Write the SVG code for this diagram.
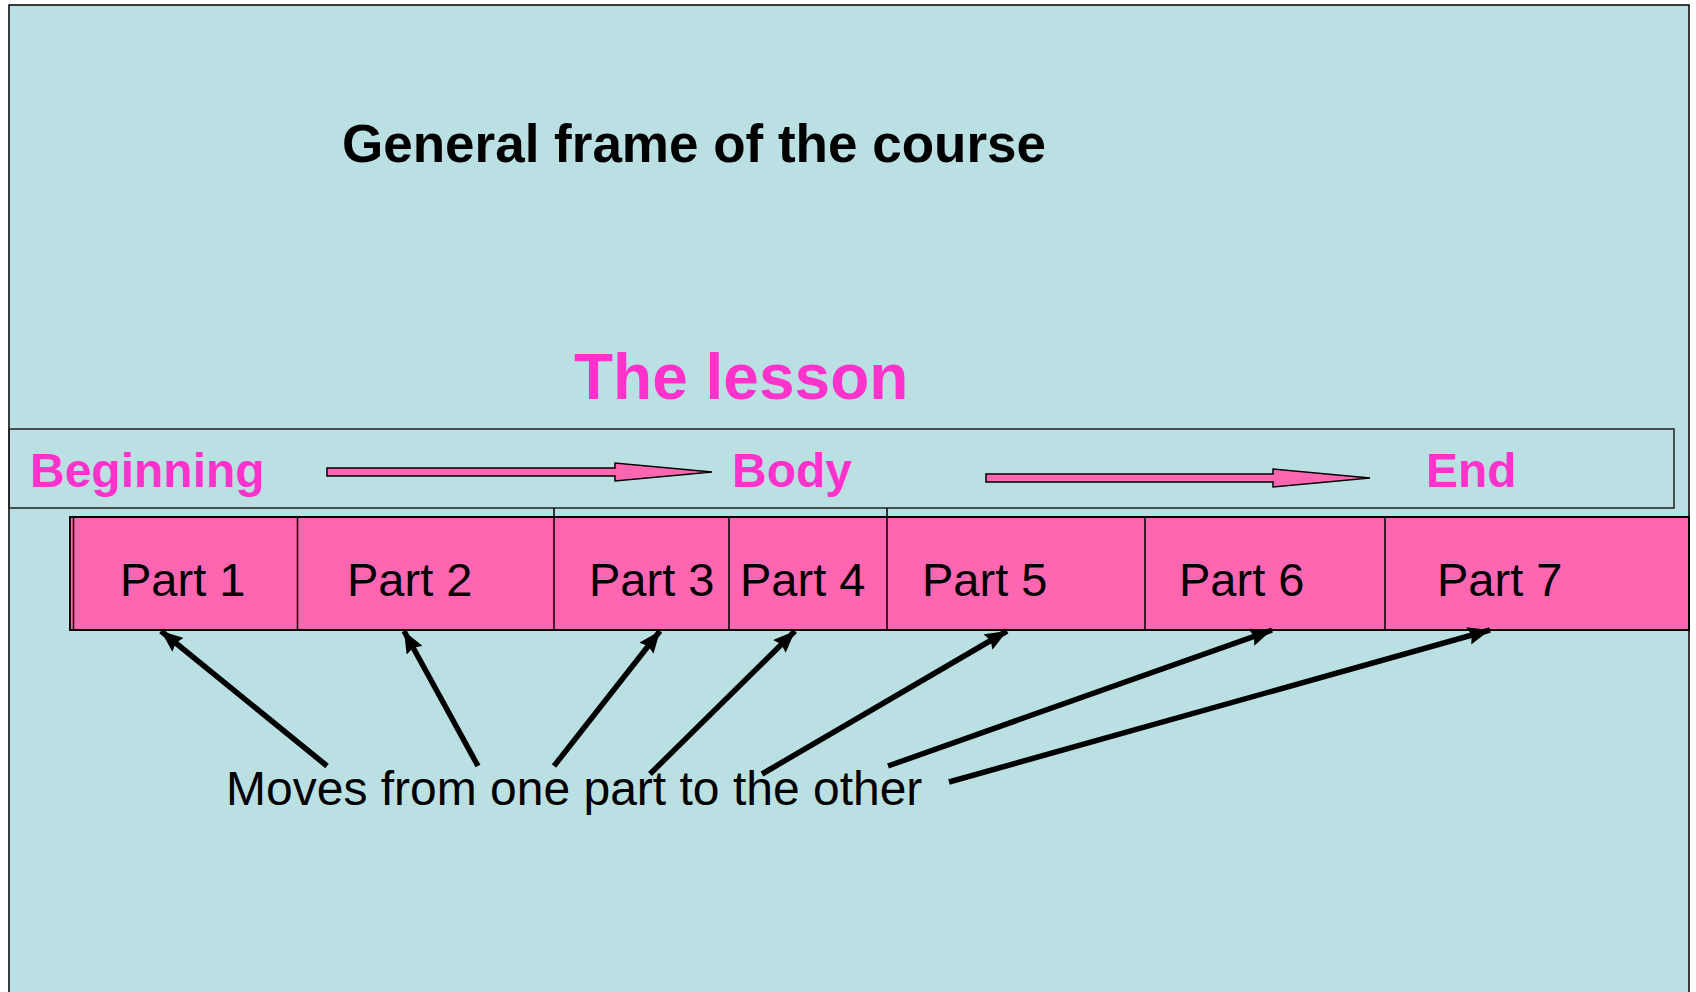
<svg xmlns="http://www.w3.org/2000/svg" width="1696" height="992" viewBox="0 0 1696 992">
<style>
.pink{font-family:"Liberation Sans",Arial,sans-serif;font-weight:bold;fill:#FF33CC}
.part{font-family:"Liberation Sans",Arial,sans-serif;font-size:47px;fill:#000}
.conn{stroke:#000;stroke-width:5.5;fill:none;marker-end:url(#ah)}
.blk{fill:#FF66B2;stroke:#000;stroke-width:1.5;stroke-linejoin:miter}
</style>
<defs>
<marker id="ah" markerUnits="userSpaceOnUse" markerWidth="24" markerHeight="18" refX="22" refY="9" orient="auto">
<path d="M0,0 L22,9 L0,18 L3,9 Z" fill="#000"/>
</marker>
</defs>
<rect x="0" y="0" width="1696" height="992" fill="#ffffff"/>
<rect id="frame" x="9" y="5" width="1680" height="1000" fill="#BAE0E3" stroke="#000" stroke-width="1.5"/>
<text id="title" x="342" y="162" font-family="Liberation Sans, Arial, sans-serif" font-weight="bold" font-size="53" fill="#000">General frame of the course</text>
<text id="lesson" class="pink" x="574" y="399" font-size="64">The lesson</text>
<g id="strip">
<rect x="9" y="429" width="1665" height="79" fill="none" stroke="#222" stroke-width="1.5"/>
<text class="pink" x="30" y="487" font-size="48">Beginning</text>
<path class="blk" d="M327,468 L615,468 L615,463 L712,472 L615,481 L615,476 L327,476 Z"/>
<text class="pink" x="732" y="487" font-size="48">Body</text>
<path class="blk" d="M986,474 L1273,474 L1273,469 L1370,478 L1273,487 L1273,482 L986,482 Z"/>
<text class="pink" x="1426" y="487" font-size="48">End</text>
<line x1="554" y1="508" x2="554" y2="517" stroke="#000" stroke-width="1.5"/>
<line x1="887" y1="508" x2="887" y2="517" stroke="#000" stroke-width="1.5"/>
</g>
<g id="bar">
<rect x="70" y="517" width="1619" height="113" fill="#FF66B2" stroke="#000" stroke-width="2"/>
<line x1="73.5" y1="517" x2="73.5" y2="630" stroke="#000" stroke-width="1.5"/>
<line x1="297.5" y1="517" x2="297.5" y2="630" stroke="#000" stroke-width="1.5"/>
<line x1="554" y1="517" x2="554" y2="630" stroke="#000" stroke-width="1.5"/>
<line x1="729" y1="517" x2="729" y2="630" stroke="#000" stroke-width="1.5"/>
<line x1="887" y1="517" x2="887" y2="630" stroke="#000" stroke-width="1.5"/>
<line x1="1145" y1="517" x2="1145" y2="630" stroke="#000" stroke-width="1.5"/>
<line x1="1385" y1="517" x2="1385" y2="630" stroke="#000" stroke-width="1.5"/>
</g>
<g id="part1"><text class="part" x="120" y="596">Part 1</text></g>
<g id="part2"><text class="part" x="347" y="596">Part 2</text></g>
<g id="part3"><text class="part" x="589" y="596">Part 3</text></g>
<g id="part4"><text class="part" x="740" y="596">Part 4</text></g>
<g id="part5"><text class="part" x="922" y="596">Part 5</text></g>
<g id="part6"><text class="part" x="1179" y="596">Part 6</text></g>
<g id="part7"><text class="part" x="1437" y="596">Part 7</text></g>
<g id="moves"><text x="226" y="805" font-family="Liberation Sans, Arial, sans-serif" font-size="48" fill="#000">Moves from one part to the other</text></g>
<g id="connectors">
<line class="conn" x1="327" y1="766" x2="161" y2="631"/>
<line class="conn" x1="478" y1="766" x2="404" y2="631"/>
<line class="conn" x1="554" y1="766" x2="660" y2="631"/>
<line class="conn" x1="650" y1="774" x2="795" y2="631"/>
<line class="conn" x1="762" y1="774" x2="1007" y2="631"/>
<line class="conn" x1="888" y1="766" x2="1272" y2="630"/>
<line class="conn" x1="949" y1="782" x2="1490" y2="630"/>
</g>
</svg>
